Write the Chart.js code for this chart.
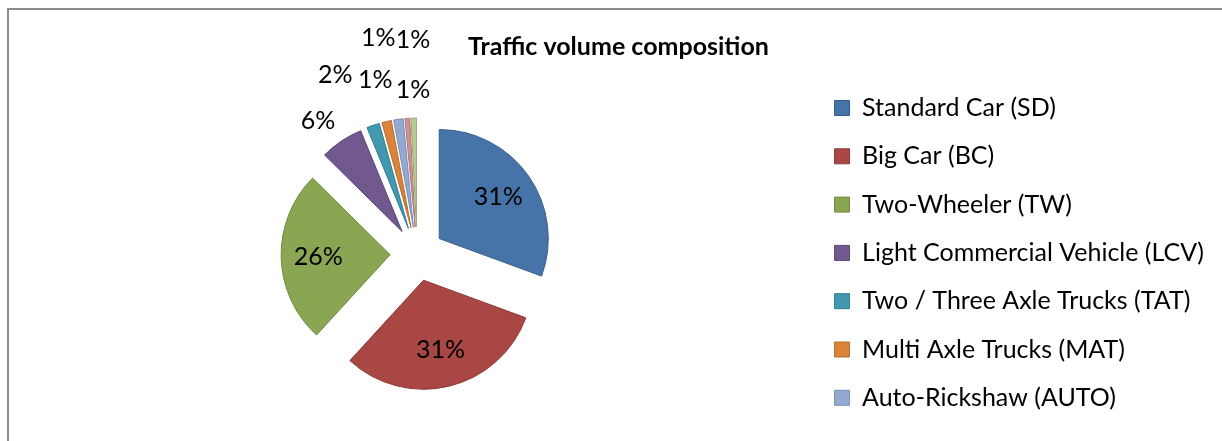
<!DOCTYPE html>
<html>
<head>
<meta charset="utf-8">
<script src="https://cdn.jsdelivr.net/npm/chart.js@4.4.1/dist/chart.umd.min.js"></script>
<style>
html,body{margin:0;padding:0;background:#ffffff;}
#wrap{position:relative;width:1222px;height:441px;overflow:hidden;background:#fff;}
#frame{position:absolute;left:7px;top:8px;width:1300px;height:500px;border-top:2px solid #8c8c8c;border-left:2px solid #8c8c8c;}
#c{position:absolute;left:0;top:0;}
</style>
</head>
<body>
<div id="wrap"><div id="frame"></div><canvas id="c" width="1222" height="441"></canvas></div>
<script>
// ---- data ----
const chartTitle = 'Traffic volume composition';
const categories = [
  'Standard Car (SD)',
  'Big Car (BC)',
  'Two-Wheeler (TW)',
  'Light Commercial Vehicle (LCV)',
  'Two / Three Axle Trucks (TAT)',
  'Multi Axle Trucks (MAT)',
  'Auto-Rickshaw (AUTO)',
  'Other (8)',
  'Other (9)'
];
const shares = [30.6, 31.2, 25.6, 6.4, 1.9, 1.4, 1.4, 0.7, 0.8];
const legendCount = 7; // only the first seven categories fit in the legend

// ---- styles ----
const fillColors = ['#4673A8', '#A94744', '#8AA652', '#71598F', '#4298AF', '#DA8439', '#93A9D1', '#D19392', '#B7CC93'];
const edgeColors = ['#385D8A', '#8C3836', '#71893F', '#5C4776', '#357D91', '#B66D31', '#7A8FB8', '#B07776', '#98AA78'];
const FONT = 'Lato, Carlito, Calibri, "Liberation Sans", sans-serif';

function shiftArcs(chart, d) {
  const a = chart.chartArea;
  if (!a) return;
  const cx = (a.left + a.right) / 2, cy = (a.top + a.bottom) / 2;
  chart.getDatasetMeta(0).data.forEach(arc => {
    const mid = (arc.startAngle + arc.endAngle) / 2;
    arc.x = cx + d * Math.cos(mid);
    arc.y = cy + d * Math.sin(mid);
  });
}

const explodePlugin = {
  id: 'explode',
  afterDatasetsUpdate(chart, args, opts) { shiftArcs(chart, opts.distance); },
  beforeDatasetsDraw(chart, args, opts) { shiftArcs(chart, opts.distance); }
};

const pctLabelPlugin = {
  id: 'pctLabels',
  afterDatasetsDraw(chart, args, opts) {
    const ctx = chart.ctx;
    const ds = chart.data.datasets[0];
    const total = ds.data.reduce((s, v) => s + v, 0);
    ctx.save();
    ctx.font = opts.font;
    ctx.fillStyle = opts.color;
    ctx.textAlign = 'center';
    ctx.textBaseline = 'middle';
    chart.getDatasetMeta(0).data.forEach((arc, i) => {
      const v = ds.data[i];
      const frac = v / total;
      const txt = Math.round(frac * 100) + '%';
      const mid = (arc.startAngle + arc.endAngle) / 2;
      let x, y;
      if (frac >= 0.1) {
        const r = arc.outerRadius * opts.insideRatio;
        x = arc.x + r * Math.cos(mid);
        y = arc.y + r * Math.sin(mid);
      } else {
        const p = opts.outside[i] || [20, 0];
        const ang = mid + p[1] * Math.PI / 180;
        const r = arc.outerRadius + p[0];
        x = arc.x + r * Math.cos(ang);
        y = arc.y + r * Math.sin(ang);
      }
      ctx.fillText(txt, x, y);
    });
    ctx.restore();
  }
};

new Chart(document.getElementById('c'), {
  type: 'pie',
  data: {
    labels: categories,
    datasets: [{
      data: shares,
      backgroundColor: fillColors,
      borderColor: edgeColors,
      borderWidth: 1,
      borderJoinStyle: 'miter',
      hoverOffset: 0,
      offset: 0,
      clip: false
    }]
  },
  options: {
    responsive: false,
    devicePixelRatio: 1,
    animation: false,
    events: [],
    radius: 109,
    rotation: 0,
    layout: { padding: { left: 23, right: 8, top: 0, bottom: 0 } },
    plugins: {
      tooltip: { enabled: false },
      title: {
        display: true,
        text: chartTitle,
        color: '#000',
        font: { family: FONT, size: 25, weight: 'bold', lineHeight: 1.2 },
        padding: { top: 32, bottom: 5 }
      },
      legend: {
        display: true,
        position: 'right',
        align: 'start',
        title: { display: true, text: ' ', font: { size: 12, lineHeight: 1.2 }, padding: { top: 57.8, bottom: 0 } },
        labels: {
          color: '#000',
          font: { family: FONT, size: 25 },
          boxWidth: 15,
          boxHeight: 15,
          padding: 23.3,
          filter: (item) => item.index < legendCount
        }
      },
      explode: { distance: 27 },
      pctLabels: {
        font: '25px ' + FONT,
        color: '#000',
        insideRatio: 0.66,
        outside: [null, null, null, [30, -3.4], [61, -6.6], [43, -0.7], [84, -2.6], [78, 3.5], [28, 0]]
      }
    }
  },
  plugins: [explodePlugin, pctLabelPlugin]
});
</script>
</body>
</html>
